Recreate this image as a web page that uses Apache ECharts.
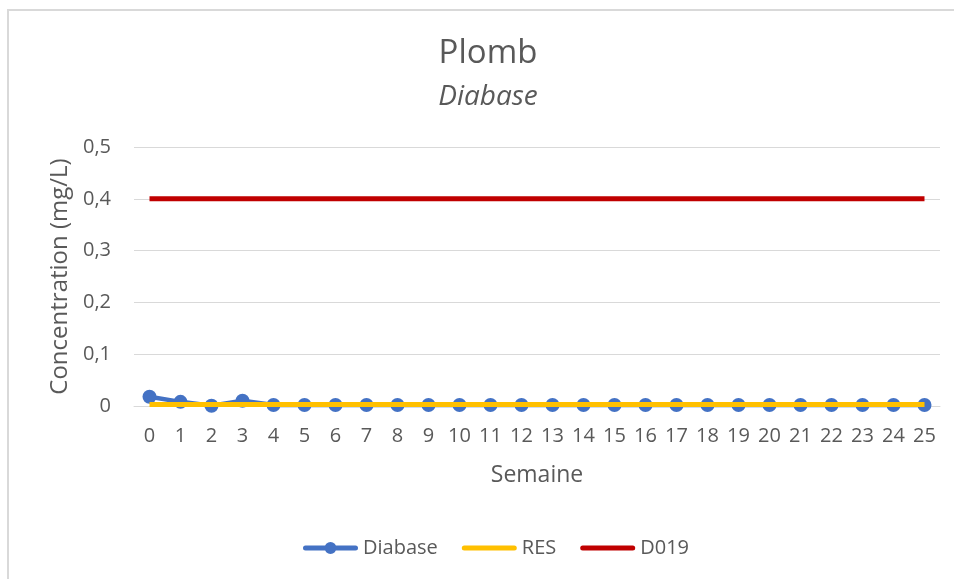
<!DOCTYPE html>
<html>
<head>
<meta charset="utf-8">
<script src="https://cdn.jsdelivr.net/npm/echarts@6/dist/echarts.min.js"></script>
<style>
  html, body { margin: 0; padding: 0; background: #fff; }
  #chart { width: 954px; height: 579px; }
</style>
</head>
<body>
<div id="chart"></div>
<script>
// Weekly lead concentrations (mg/L) for the Diabase sample, with RES and D019 limits
const weeks = ['0','1','2','3','4','5','6','7','8','9','10','11','12','13','14','15','16','17','18','19','20','21','22','23','24','25'];
const diabase = [0.018, 0.008, 0.0005, 0.01, 0.002, 0.002, 0.002, 0.002, 0.002, 0.002, 0.002, 0.002, 0.002, 0.002, 0.002, 0.002, 0.002, 0.002, 0.002, 0.002, 0.002, 0.002, 0.002, 0.002, 0.002, 0.002];
const res = [0.003, 0.003, 0.003, 0.003, 0.003, 0.003, 0.003, 0.003, 0.003, 0.003, 0.003, 0.003, 0.003, 0.003, 0.003, 0.003, 0.003, 0.003, 0.003, 0.003, 0.003, 0.003, 0.003, 0.003, 0.003, 0.003];
const d019 = [0.4, 0.4, 0.4, 0.4, 0.4, 0.4, 0.4, 0.4, 0.4, 0.4, 0.4, 0.4, 0.4, 0.4, 0.4, 0.4, 0.4, 0.4, 0.4, 0.4, 0.4, 0.4, 0.4, 0.4, 0.4, 0.4];

const FONT = '"Open Sans", "Liberation Sans", sans-serif';
const TXT = '#595959';

// Legend glyphs drawn in a 55x12 box: a rounded bar, optionally with a dot in the middle.
// The two hair-thin corner squares keep the bounding box the same for every glyph.
const BOX = ' M0,0 h0.01 v0.01 h-0.01 Z M55,12 h-0.01 v-0.01 h0.01 Z';
const BAR = 'M2.5,3.5 H52.5 A2.5,2.5 0 0,1 52.5,8.5 H2.5 A2.5,2.5 0 0,1 2.5,3.5 Z';
const DOT = ' M21.5,6 A6,6 0 1,1 33.5,6 A6,6 0 1,1 21.5,6 Z';
const ICON_LINE = 'path://' + BAR + BOX;
const ICON_LINE_DOT = 'path://' + BAR + DOT + BOX;

const chart = echarts.init(document.getElementById('chart'), null, { renderer: 'canvas' });
chart.setOption({
  animation: false,
  backgroundColor: '#ffffff',
  graphic: [
    { type: 'line', shape: { x1: 7, y1: 10, x2: 954, y2: 10 }, style: { stroke: '#d9d9d9', lineWidth: 2 } },
    { type: 'line', shape: { x1: 8, y1: 10, x2: 8, y2: 579 }, style: { stroke: '#d9d9d9', lineWidth: 2 } },
    { type: 'text', x: 488, y: 54, style: { text: 'Plomb', fontFamily: FONT, fontSize: 33, fill: TXT, align: 'center', verticalAlign: 'middle' } },
    { type: 'text', x: 488, y: 97, style: { text: 'Diabase', fontFamily: FONT, fontSize: 28, fontStyle: 'italic', fill: TXT, align: 'center', verticalAlign: 'middle' } }
  ],
  legend: {
    top: 533,
    left: 298,
    itemWidth: 55,
    itemHeight: 12,
    itemGap: 24,
    textStyle: { fontFamily: FONT, fontSize: 20, color: TXT },
    data: [
      { name: 'Diabase', icon: ICON_LINE_DOT },
      { name: 'RES', icon: ICON_LINE },
      { name: 'D019', icon: ICON_LINE }
    ]
  },
  grid: { left: 134, right: 14, top: 147, bottom: 173 },
  xAxis: {
    type: 'category',
    data: weeks,
    boundaryGap: true,
    name: 'Semaine',
    nameLocation: 'middle',
    nameGap: 58,
    nameTextStyle: { fontFamily: FONT, fontSize: 23, color: TXT },
    axisLine: { show: true, lineStyle: { color: '#d9d9d9', width: 1 } },
    axisTick: { show: false },
    axisLabel: { fontFamily: FONT, fontSize: 20, color: TXT, margin: 20, interval: 0 }
  },
  yAxis: {
    type: 'value',
    min: 0,
    max: 0.5,
    interval: 0.1,
    name: 'Concentration (mg/L)',
    nameLocation: 'middle',
    nameGap: 62,
    nameTextStyle: { fontFamily: FONT, fontSize: 24, color: TXT },
    axisLine: { show: false },
    axisTick: { show: false },
    splitLine: { lineStyle: { color: '#d9d9d9', width: 1 } },
    axisLabel: {
      fontFamily: FONT, fontSize: 20, color: TXT, margin: 23,
      formatter: v => String(Math.round(v * 10) / 10).replace('.', ',')
    }
  },
  series: [
    {
      name: 'Diabase', type: 'line', data: diabase, z: 2,
      symbol: 'circle', symbolSize: 14,
      lineStyle: { color: '#4472C4', width: 4.5 },
      itemStyle: { color: '#4472C4' }
    },
    {
      name: 'RES', type: 'line', data: res, z: 3,
      symbol: 'none',
      lineStyle: { color: '#FFC000', width: 5 },
      itemStyle: { color: '#FFC000' }
    },
    {
      name: 'D019', type: 'line', data: d019, z: 3,
      symbol: 'none',
      lineStyle: { color: '#C00000', width: 5 },
      itemStyle: { color: '#C00000' }
    }
  ]
});
</script>
</body>
</html>
